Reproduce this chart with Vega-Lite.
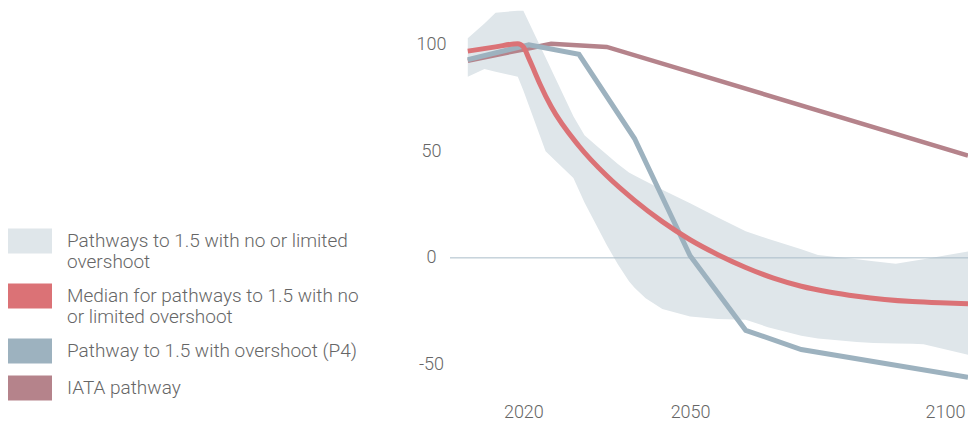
{
  "$schema": "https://vega.github.io/schema/vega-lite/v6.json",
  "autosize": "none",
  "width": 518,
  "height": 390,
  "padding": {"left": 450, "top": 0, "right": 0, "bottom": 36},
  "background": "#ffffff",
  "config": {
    "view": {"stroke": null},
    "font": "Roboto",
    "axis": {"labelFont": "Roboto", "labelFontWeight": 300, "labelColor": "#666666", "labelFontSize": 18, "domain": false, "ticks": false, "grid": false, "title": null}
  },
  "datasets": {
    "band": [
      {"year": 2010, "low": 85, "high": 103, "series": "Pathways to 1.5 with no or limited overshoot"},
      {"year": 2013, "low": 88.6, "high": 110, "series": "Pathways to 1.5 with no or limited overshoot"},
      {"year": 2015, "low": 87.3, "high": 115, "series": "Pathways to 1.5 with no or limited overshoot"},
      {"year": 2019, "low": 85, "high": 116, "series": "Pathways to 1.5 with no or limited overshoot"},
      {"year": 2020, "low": 78.5, "high": 116, "series": "Pathways to 1.5 with no or limited overshoot"},
      {"year": 2024, "low": 50, "high": 94, "series": "Pathways to 1.5 with no or limited overshoot"},
      {"year": 2026, "low": 45, "high": 83, "series": "Pathways to 1.5 with no or limited overshoot"},
      {"year": 2029, "low": 37.5, "high": 66.5, "series": "Pathways to 1.5 with no or limited overshoot"},
      {"year": 2031, "low": 26, "high": 57.5, "series": "Pathways to 1.5 with no or limited overshoot"},
      {"year": 2033, "low": 16, "high": 53, "series": "Pathways to 1.5 with no or limited overshoot"},
      {"year": 2035, "low": 6, "high": 48.5, "series": "Pathways to 1.5 with no or limited overshoot"},
      {"year": 2037, "low": -3, "high": 44, "series": "Pathways to 1.5 with no or limited overshoot"},
      {"year": 2039, "low": -11, "high": 40, "series": "Pathways to 1.5 with no or limited overshoot"},
      {"year": 2040, "low": -14, "high": 38.7, "series": "Pathways to 1.5 with no or limited overshoot"},
      {"year": 2042, "low": -19, "high": 36, "series": "Pathways to 1.5 with no or limited overshoot"},
      {"year": 2045, "low": -24, "high": 32, "series": "Pathways to 1.5 with no or limited overshoot"},
      {"year": 2050, "low": -27.5, "high": 25.6, "series": "Pathways to 1.5 with no or limited overshoot"},
      {"year": 2055, "low": -28.7, "high": 19, "series": "Pathways to 1.5 with no or limited overshoot"},
      {"year": 2060, "low": -29, "high": 12.5, "series": "Pathways to 1.5 with no or limited overshoot"},
      {"year": 2064, "low": -32.5, "high": 9, "series": "Pathways to 1.5 with no or limited overshoot"},
      {"year": 2070, "low": -36.5, "high": 4, "series": "Pathways to 1.5 with no or limited overshoot"},
      {"year": 2073, "low": -37.8, "high": 1.4, "series": "Pathways to 1.5 with no or limited overshoot"},
      {"year": 2080, "low": -39.5, "high": -0.7, "series": "Pathways to 1.5 with no or limited overshoot"},
      {"year": 2083, "low": -40, "high": -1.6, "series": "Pathways to 1.5 with no or limited overshoot"},
      {"year": 2087, "low": -40.2, "high": -2.8, "series": "Pathways to 1.5 with no or limited overshoot"},
      {"year": 2090, "low": -40.3, "high": -1.5, "series": "Pathways to 1.5 with no or limited overshoot"},
      {"year": 2092, "low": -40.5, "high": -0.6, "series": "Pathways to 1.5 with no or limited overshoot"},
      {"year": 2100, "low": -45.5, "high": 3, "series": "Pathways to 1.5 with no or limited overshoot"}
    ],
    "median": [
      {"year": 2010, "value": 97, "series": "Median for pathways to 1.5 with no or limited overshoot"},
      {"year": 2015, "value": 99, "series": "Median for pathways to 1.5 with no or limited overshoot"},
      {"year": 2019, "value": 100.5, "series": "Median for pathways to 1.5 with no or limited overshoot"},
      {"year": 2020, "value": 99, "series": "Median for pathways to 1.5 with no or limited overshoot"},
      {"year": 2021, "value": 93.5, "series": "Median for pathways to 1.5 with no or limited overshoot"},
      {"year": 2022, "value": 87.5, "series": "Median for pathways to 1.5 with no or limited overshoot"},
      {"year": 2023, "value": 81.5, "series": "Median for pathways to 1.5 with no or limited overshoot"},
      {"year": 2025, "value": 71, "series": "Median for pathways to 1.5 with no or limited overshoot"},
      {"year": 2030, "value": 52.5, "series": "Median for pathways to 1.5 with no or limited overshoot"},
      {"year": 2035, "value": 38.5, "series": "Median for pathways to 1.5 with no or limited overshoot"},
      {"year": 2040, "value": 27, "series": "Median for pathways to 1.5 with no or limited overshoot"},
      {"year": 2045, "value": 17, "series": "Median for pathways to 1.5 with no or limited overshoot"},
      {"year": 2050, "value": 8.5, "series": "Median for pathways to 1.5 with no or limited overshoot"},
      {"year": 2055, "value": 1.5, "series": "Median for pathways to 1.5 with no or limited overshoot"},
      {"year": 2060, "value": -4.5, "series": "Median for pathways to 1.5 with no or limited overshoot"},
      {"year": 2065, "value": -9.5, "series": "Median for pathways to 1.5 with no or limited overshoot"},
      {"year": 2070, "value": -13.3, "series": "Median for pathways to 1.5 with no or limited overshoot"},
      {"year": 2075, "value": -16, "series": "Median for pathways to 1.5 with no or limited overshoot"},
      {"year": 2080, "value": -18, "series": "Median for pathways to 1.5 with no or limited overshoot"},
      {"year": 2085, "value": -19.5, "series": "Median for pathways to 1.5 with no or limited overshoot"},
      {"year": 2090, "value": -20.5, "series": "Median for pathways to 1.5 with no or limited overshoot"},
      {"year": 2095, "value": -21.1, "series": "Median for pathways to 1.5 with no or limited overshoot"},
      {"year": 2100, "value": -21.5, "series": "Median for pathways to 1.5 with no or limited overshoot"}
    ],
    "p4": [
      {"year": 2010, "value": 93, "series": "Pathway to 1.5 with overshoot (P4)"},
      {"year": 2021, "value": 100, "series": "Pathway to 1.5 with overshoot (P4)"},
      {"year": 2030, "value": 95.5, "series": "Pathway to 1.5 with overshoot (P4)"},
      {"year": 2040, "value": 56, "series": "Pathway to 1.5 with overshoot (P4)"},
      {"year": 2050, "value": 1, "series": "Pathway to 1.5 with overshoot (P4)"},
      {"year": 2060, "value": -34, "series": "Pathway to 1.5 with overshoot (P4)"},
      {"year": 2070, "value": -43, "series": "Pathway to 1.5 with overshoot (P4)"},
      {"year": 2100, "value": -56, "series": "Pathway to 1.5 with overshoot (P4)"}
    ],
    "iata": [
      {"year": 2010, "value": 92.5, "series": "IATA pathway"},
      {"year": 2020, "value": 97.8, "series": "IATA pathway"},
      {"year": 2025, "value": 100.5, "series": "IATA pathway"},
      {"year": 2035, "value": 99, "series": "IATA pathway"},
      {"year": 2100, "value": 48, "series": "IATA pathway"}
    ]
  },
  "encoding": {
    "x": {"field": "year", "type": "quantitative", "scale": {"domain": [2006.8, 2100], "nice": false, "zero": false},
      "axis": {"values": [2020, 2050, 2100], "format": "d", "labelPadding": 13, "labelFlush": true, "labelFlushOffset": -3}},
    "color": {"field": "series", "type": "nominal",
      "scale": {"domain": ["Pathways to 1.5 with no or limited overshoot", "Median for pathways to 1.5 with no or limited overshoot", "Pathway to 1.5 with overshoot (P4)", "IATA pathway"],
        "range": ["#dfe6ea", "#db7276", "#9db2bf", "#b5838b"]},
      "legend": {
        "title": null, "orient": "none", "legendX": -442, "legendY": 219, "direction": "vertical", "padding": 0,
        "symbolType": "M-1,-0.568H1V0.568H-1Z", "symbolSize": 1936, "symbolStrokeWidth": 0,
        "labelFont": "Roboto", "labelFontWeight": 300, "labelFontSize": 19, "labelColor": "#666666", "labelLimit": 400, "labelOffset": 15, "rowPadding": 2,
        "labelExpr": "datum.label == 'Pathways to 1.5 with no or limited overshoot' ? ['Pathways to 1.5 with no or limited', 'overshoot'] : datum.label == 'Median for pathways to 1.5 with no or limited overshoot' ? ['Median for pathways to 1.5 with no', 'or limited overshoot'] : datum.label",
        "encode": {
          "symbols": {"update": {"fill": {"scale": "color", "field": "value"}, "stroke": {"value": "transparent"}, "opacity": {"value": 1}}},
          "labels": {"update": {"lineHeight": {"value": 21}}}
        }
      }}
  },
  "layer": [
    {
      "data": {"name": "band"},
      "mark": {"type": "area", "opacity": 1},
      "encoding": {
        "y": {"field": "high", "type": "quantitative", "scale": {"domain": [-62, 121], "nice": false, "zero": false},
          "axis": {"values": [-50, 0, 50, 100], "labelAlign": "center", "labelPadding": 19, "labelExpr": "datum.value < 0 ? '-' + abs(datum.value) : datum.label"}},
        "y2": {"field": "low"}
      }
    },
    {
      "data": {"values": [{}]},
      "mark": {"type": "rule", "stroke": "#a9bcc8", "strokeWidth": 1},
      "encoding": {"y": {"datum": 0, "type": "quantitative"}, "x": {"value": 0}, "x2": {"value": 518}, "color": {"value": "#a9bcc8"}}
    },
    {
      "data": {"name": "iata"},
      "mark": {"type": "line", "strokeWidth": 4.5},
      "encoding": {"y": {"field": "value", "type": "quantitative"}}
    },
    {
      "data": {"name": "p4"},
      "mark": {"type": "line", "strokeWidth": 5},
      "encoding": {"y": {"field": "value", "type": "quantitative"}}
    },
    {
      "data": {"name": "median"},
      "mark": {"type": "line", "strokeWidth": 5, "interpolate": "monotone"},
      "encoding": {"y": {"field": "value", "type": "quantitative"}}
    }
  ]
}
